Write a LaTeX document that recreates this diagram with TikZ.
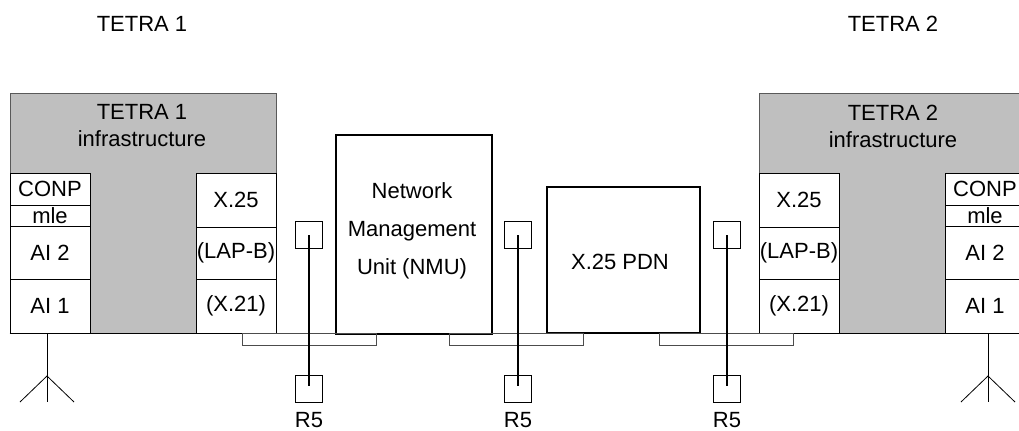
\documentclass[tikz,border=0pt]{standalone}
\usepackage{fontspec}
\setmainfont{Liberation Sans}
\tikzset{
  txt/.style={font=\fontsize{11}{13.5}\selectfont,align=center,inner sep=0pt},
  infra/.style={draw=black!65,line width=0.4pt,fill=black!25,minimum width=133pt,minimum height=120pt,inner sep=0pt},
  cell/.style={txt,draw=black,fill=white,line width=0.4pt,minimum width=40pt},
  unitbox/.style={draw=black,fill=white,line width=1pt,inner sep=0pt},
  rfive/.style={draw=black,line width=0.8pt,minimum size=13.4pt,inner sep=0pt},
  bridge/.style={draw=black!70,line width=0.4pt,minimum width=67pt,minimum height=6pt,inner sep=0pt}
}
\begin{document}
\begin{tikzpicture}[x=0.5pt,y=-0.5pt]
  \useasboundingbox (0,0) rectangle (1019,430);
  \node[txt] (tetraone) at (142,24) {TETRA 1};
  \node[txt] (tetratwo) at (893,24) {TETRA 2};
  \node[infra] (infraone) at (143,213) {};
  \node[infra] (infratwo) at (892,213) {};
  \node[txt] (infraonetxt) at (142,126) {TETRA 1\\infrastructure};
  \node[txt] (infratwotxt) at (893,126) {TETRA 2\\infrastructure};
  \foreach \name/\x in {one/50,two/985} {
    \node[cell,minimum height=16pt] (conp\name) at (\x,189) {CONP};
    \node[cell,minimum height=10.5pt] (mle\name) at (\x,215.5) {mle};
    \node[cell,minimum height=26.5pt] (aitwo\name) at (\x,252.5) {AI 2};
    \node[cell,minimum height=27pt] (aione\name) at (\x,306) {AI 1};
  }
  \foreach \name/\x in {one/236,two/799} {
    \node[cell,minimum height=27pt] (xtwofive\name) at (\x,200) {X.25};
    \node[cell,minimum height=26pt] (lapb\name) at (\x,253) {(LAP-B)};
    \node[cell,minimum height=27pt] (xtwoone\name) at (\x,306) {(X.21)};
  }
  \node[unitbox,minimum width=78pt,minimum height=99.5pt] (nmu) at (414,234) {};
  \node[txt] (nmutxt) at (412,231) {Network\\[5.5pt]Management\\[5.5pt]Unit (NMU)};
  \node[unitbox,minimum width=76.5pt,minimum height=73pt] (pdn) at (623.5,260) {};
  \node[txt] (pdntxt) at (620,262) {X.25 PDN};
  \draw[line width=0.5pt] (infraone.south west) -- (infratwo.south east);
  \foreach \name/\x/\b in {a/309/309,b/518/516,c/727/726} {
    \node[bridge] (bridge\name) at (\b,339) {};
    \node[rfive] (top\name) at (\x,235) {};
    \node[rfive] (bot\name) at (\x,389) {};
    \node[txt] (rfive\name) at (\x,420) {R5};
    \draw[line width=0.8pt] (top\name.center) -- ([yshift=1.5pt]bot\name.center);
  }
  \foreach \name/\x in {one/47,two/988} {
    \coordinate (mast\name) at (\x,333);
    \coordinate (apex\name) at (\x,376);
    \coordinate (foot\name) at (\x,402);
    \coordinate (left\name) at (\x-27,402);
    \coordinate (right\name) at (\x+27,402);
    \draw[line width=0.4pt] (mast\name) -- (foot\name);
    \draw[line width=0.4pt] (left\name) -- (apex\name) -- (right\name);
  }
\end{tikzpicture}
\end{document}
